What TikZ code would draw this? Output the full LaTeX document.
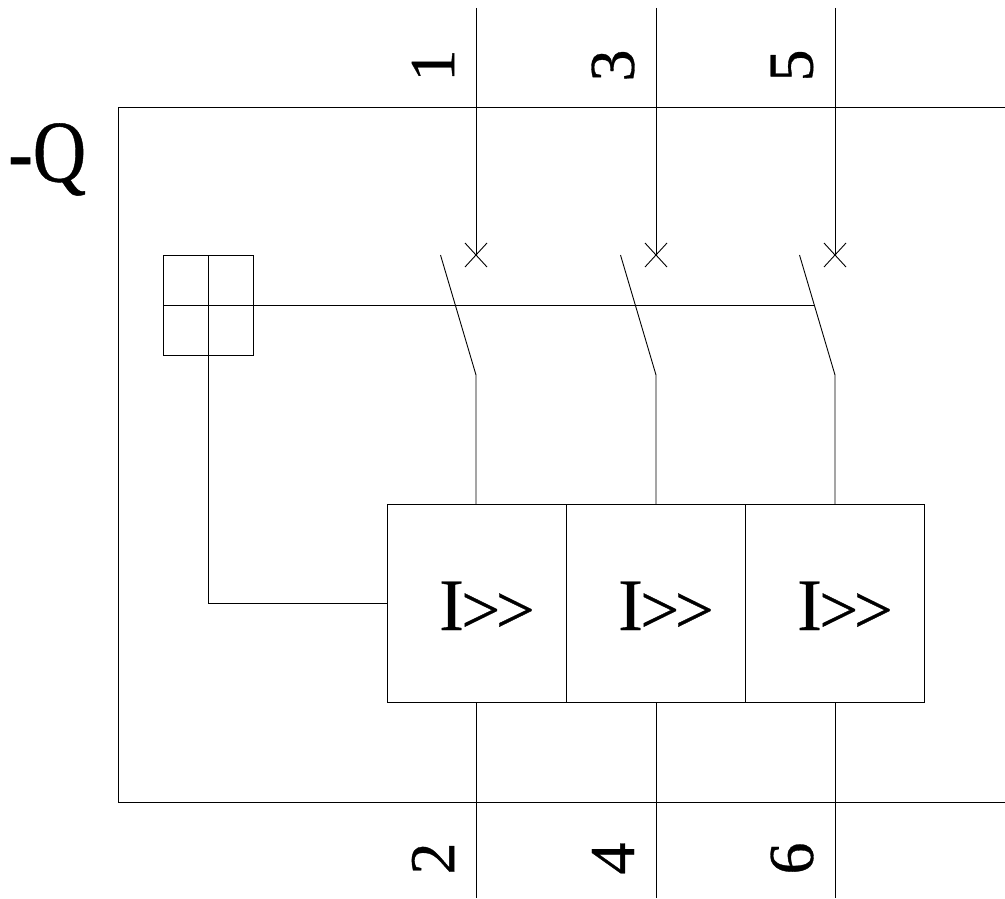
\documentclass[tikz,border=0pt]{standalone}
\usepackage{fontspec}
\setmainfont{Liberation Serif}
\newfontfamily\heavy[FakeBold=0.5]{Liberation Serif}
\begin{document}
\begin{tikzpicture}[x=1pt,y=-1pt,
  wire/.style={draw=black,line width=0.9pt},
  tripbox/.style={draw=black,line width=0.9pt,minimum width=179pt,minimum height=198pt,inner sep=0pt,outer sep=0pt,anchor=north west},
  handlebox/.style={draw=black,line width=0.9pt,minimum width=45pt,minimum height=50pt,inner sep=0pt,outer sep=0pt,anchor=north west},
  pin/.style={inner sep=0pt,rotate=90,font=\heavy\fontsize{64}{64}\selectfont},
  triplabel/.style={inner sep=0pt,anchor=base west,font=\heavy\fontsize{74}{74}\selectfont}]
\useasboundingbox (0,0) rectangle (1005,899);
% frame
\coordinate (ftr) at (1005,107);
\coordinate (ftl) at (118,107);
\coordinate (fbl) at (118,802);
\coordinate (fbr) at (1005,802);
\draw[wire] (ftr) -- (ftl) -- (fbl) -- (fbr);
\node[inner sep=0pt,anchor=base west,font=\heavy\fontsize{88}{88}\selectfont] (tag) at (8,181.5) {\scalebox{.84}[1]{-Q}};
% handle
\node[handlebox] (h1) at (163,255) {};
\node[handlebox] (h2) at (208,255) {};
\node[handlebox] (h3) at (163,305) {};
\node[handlebox] (h4) at (208,305) {};
% trip boxes
\node[tripbox] (t1) at (387,504) {};
\node[tripbox] (t2) at (566,504) {};
\node[tripbox] (t3) at (745,504) {};
\newcommand{\tripmark}{I\kern-2.5pt\raisebox{-3pt}{\fontsize{69}{69}\selectfont >\kern-4.5pt>}}
\node[triplabel] (l1) at (439,630) {\tripmark};
\node[triplabel] (l2) at (618,630) {\tripmark};
\node[triplabel] (l3) at (797,630) {\tripmark};
% wires
\foreach \n/\x/\tp/\bt in {1/476/1/2,2/656/3/4,3/835/5/6}{
  \coordinate (top\n) at (\x,8);
  \coordinate (cross\n) at (\x,255);
  \coordinate (hinge\n) at (\x,375);
  \coordinate (bot\n) at (\x,898);
  \coordinate (blade\n) at (\x-35.5,255);
  \coordinate (xa\n) at (\x-11,243);
  \coordinate (xb\n) at (\x+11,267);
  \coordinate (xc\n) at (\x-11,267);
  \coordinate (xd\n) at (\x+11,243);
  \draw[wire] (top\n) -- (cross\n);
  \draw[wire] (xa\n) -- (xb\n);
  \draw[wire] (xc\n) -- (xd\n);
  \draw[wire] (blade\n) -- (hinge\n) -- (hinge\n |- t\n.north);
  \draw[wire] (hinge\n |- t\n.south) -- (bot\n);
  \node[pin] (up\n) at (\x-43,65.5) {\tp};
  \node[pin] (dn\n) at (\x-43,858.5) {\bt};
}
% shaft and link
\coordinate (shaftend) at (814,305);
\draw[wire] (h2.south east) -- (shaftend);
\coordinate (elbow) at (208,603);
\draw[wire] (h3.south east) -- (elbow) -- (t1.west);
\end{tikzpicture}
\end{document}
